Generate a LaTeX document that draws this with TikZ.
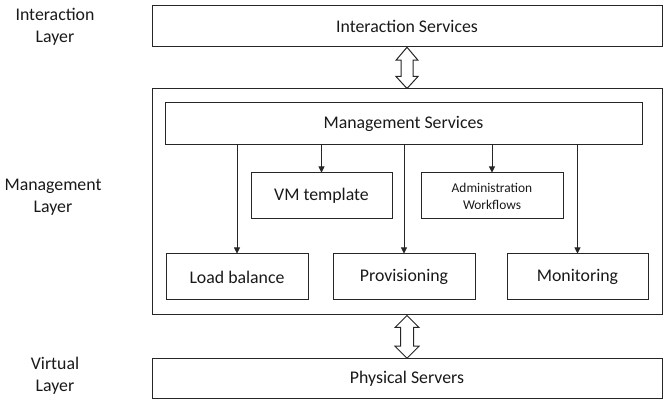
\documentclass[tikz,border=0pt]{standalone}
\usepackage{fontspec}
\setmainfont{Carlito}
\usetikzlibrary{arrows.meta,calc}
\begin{document}
\begin{tikzpicture}[x=1pt,y=-1pt,
  box/.style={draw=black!85, line width=1pt, rectangle, inner sep=0pt,
    align=center, font=\fontsize{17.8}{21}\selectfont, text=black!90},
  smallbox/.style={box, font=\fontsize{13.4}{17}\selectfont},
  layer/.style={align=center, font=\fontsize{17.8}{22}\selectfont, text=black!90},
  feed/.style={draw=black!85, line width=0.9pt, -{Triangle[length=6pt,width=6pt]}},
  hollow/.style={draw=black!85, line width=1pt, fill=white, line join=miter}]
\useasboundingbox (0,0) rectangle (665,403);

% layer boxes
\node[box, minimum width=510, minimum height=41.5] (inter) at (407,26) {Interaction Services};
\node[box, minimum width=510, minimum height=226] (mgmt) at (407,202) {};
\node[box, minimum width=510, minimum height=39.5] (phys) at (407,378.5) {Physical Servers};

% management components
\node[box, minimum width=477, minimum height=42] (msvc) at (403.5,124) {Management Services};
\node[box, minimum width=141, minimum height=46] (vm) at (321.5,196) {VM template};
\node[smallbox, minimum width=142, minimum height=46] (admin) at (492,196) {Administration\\Workflows};
\node[box, minimum width=142, minimum height=46] (lb) at (237,277) {Load balance};
\node[box, minimum width=142, minimum height=46] (prov) at (404,277) {Provisioning};
\node[box, minimum width=141, minimum height=46] (mon) at (577.5,277) {Monitoring};

% layer labels
\node[layer] (linter) at (55,27) {Interaction\\Layer};
\node[layer] (lmgmt) at (53,197.5) {Management\\Layer};
\node[layer] (lvirt) at (55,376) {Virtual\\Layer};

% feeds from the management services
\foreach \t in {lb,vm,prov,admin,mon}
  \draw[feed] (msvc.south -| \t.north) -- (\t.north);

% hollow double arrows between layers
\path (inter.south) coordinate (t1) (mgmt.north) coordinate (t2)
      (mgmt.south) coordinate (b1) (phys.north) coordinate (b2);
\draw[hollow] (t1) -- ($(t1)+(11,13)$) -- ($(t1)+(6,13)$) -- ($(t2)+(6,-12)$)
  -- ($(t2)+(11,-12)$) -- (t2) -- ($(t2)+(-11,-12)$) -- ($(t2)+(-6,-12)$)
  -- ($(t1)+(-6,13)$) -- ($(t1)+(-11,13)$) -- cycle;
\draw[hollow] (b1) -- ($(b1)+(12,12)$) -- ($(b1)+(6.5,12)$) -- ($(b2)+(6.5,-12)$)
  -- ($(b2)+(12,-12)$) -- (b2) -- ($(b2)+(-12,-12)$) -- ($(b2)+(-6.5,-12)$)
  -- ($(b1)+(-6.5,12)$) -- ($(b1)+(-12,12)$) -- cycle;
\end{tikzpicture}
\end{document}
